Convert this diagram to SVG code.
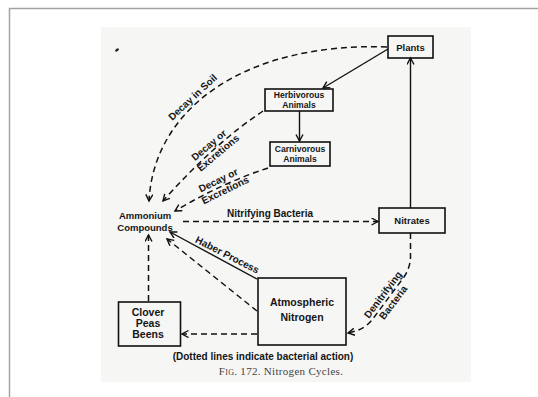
<svg xmlns="http://www.w3.org/2000/svg" width="538" height="397" viewBox="0 0 538 397">
<defs>
<style>
.box{fill:none;stroke:#111;stroke-width:1.6}
.lbl{font-family:"Liberation Sans",Arial,sans-serif;font-weight:bold;font-size:9.5px;fill:#151515;text-anchor:middle}
.sm{font-size:8.6px}
.big{font-size:10.5px}
.edge{font-family:"Liberation Sans",Arial,sans-serif;font-weight:bold;font-size:10px;fill:#151515;text-anchor:middle}
.solid{fill:none;stroke:#111;stroke-width:1.4}
.dash{fill:none;stroke:#111;stroke-width:1.5;stroke-dasharray:6 4}
.cap{font-family:"Liberation Serif","Times New Roman",serif;font-size:11px;fill:#444;text-anchor:middle}
</style>
<marker id="ah" markerUnits="userSpaceOnUse" markerWidth="10" markerHeight="10" refX="7" refY="4" orient="auto">
<path d="M0.5,0.5 L7,4 L0.5,7.5" fill="none" stroke="#111" stroke-width="1.4"/>
</marker>
</defs>
<rect x="0" y="0" width="538" height="397" fill="#ffffff"/>
<path d="M9.5,397 V8.5 H538" fill="none" stroke="#a3a3a3" stroke-width="1.5"/>
<rect x="101" y="27" width="370" height="355" fill="#f6f6f5"/>
<ellipse cx="117" cy="50" rx="2.2" ry="1.3" transform="rotate(-35 117 50)" fill="#222"/>

<g id="connectors">
<path class="solid" d="M388,49 L323,88" marker-end="url(#ah)"/>
<path class="solid" d="M299.5,111 V141" marker-end="url(#ah)"/>
<path class="solid" d="M410.5,208 V58" marker-end="url(#ah)"/>
<path class="dash" d="M387,47 C250,42 154,105 149,201" marker-end="url(#ah)"/>
<path class="dash" d="M263,111 Q213.5,144 163,201" marker-end="url(#ah)"/>
<path class="dash" d="M268,168 Q222,183 175,211" marker-end="url(#ah)"/>
<path class="dash" d="M183,221.5 H378" marker-end="url(#ah)"/>
<path class="solid" d="M257,279 L170,232" marker-end="url(#ah)"/>
<path class="dash" d="M257,311 L167,239" marker-end="url(#ah)"/>
<path class="dash" d="M148.5,301 V235" marker-end="url(#ah)"/>
<path class="dash" d="M257,334 H182" marker-end="url(#ah)"/>
<path class="dash" d="M410.5,233 V258 Q410,268 404,277 L372,320 Q364,330 348,333" marker-end="url(#ah)"/>
<g transform="translate(197,102) rotate(-43)"><text class="edge" x="0" y="-3">Decay in Soil</text></g>
<g transform="translate(213,150) rotate(-40)"><text class="edge" x="0" y="-3">Decay or</text><text class="edge" x="2" y="9">Excretions</text></g>
<g transform="translate(221,186) rotate(-26)"><text class="edge" x="0" y="-3">Decay or</text><text class="edge" x="2" y="9">Excretions</text></g>
<text class="edge" x="270" y="217">Nitrifying  Bacteria</text>
<g transform="translate(224,261.5) rotate(27)"><text class="edge" x="0" y="-4">Haber Process</text></g>
<g transform="translate(388,298.5) rotate(-53)"><text class="edge" x="0" y="-3">Denitrifying</text><text class="edge" x="0" y="10">Bacteria</text></g>
</g>

<g id="plants"><rect class="box" x="388" y="36" width="45" height="22"/><text class="lbl" x="410.5" y="50.5">Plants</text></g>
<g id="herbivorous"><rect class="box" x="265" y="89" width="68" height="22"/><text class="lbl sm" x="299" y="98">Herbivorous</text><text class="lbl sm" x="299" y="108">Animals</text></g>
<g id="carnivorous"><rect class="box" x="270" y="142" width="60" height="24"/><text class="lbl sm" x="300" y="152">Carnivorous</text><text class="lbl sm" x="300" y="162">Animals</text></g>
<g id="ammonium"><text class="lbl" x="145" y="219">Ammonium</text><text class="lbl" x="145" y="230.5">Compounds</text></g>
<g id="nitrates"><rect class="box" x="379" y="208" width="66" height="25"/><text class="lbl" x="412" y="224">Nitrates</text></g>
<g id="atmospheric"><rect class="box" x="258" y="278" width="88" height="67"/><text class="lbl big" x="302" y="305.5">Atmospheric</text><text class="lbl big" x="302" y="320.5">Nitrogen</text></g>
<g id="clover"><rect class="box" x="118.5" y="302" width="62" height="44"/><text class="lbl big" x="148" y="316">Clover</text><text class="lbl big" x="148" y="327">Peas</text><text class="lbl big" x="148" y="338">Beens</text></g>

<text class="edge" x="263" y="360">(Dotted lines indicate bacterial action)</text>
<text class="cap" x="281" y="375" letter-spacing="0.3"><tspan font-variant="small-caps">Fig.</tspan> 172.   Nitrogen Cycles.</text>
</svg>
